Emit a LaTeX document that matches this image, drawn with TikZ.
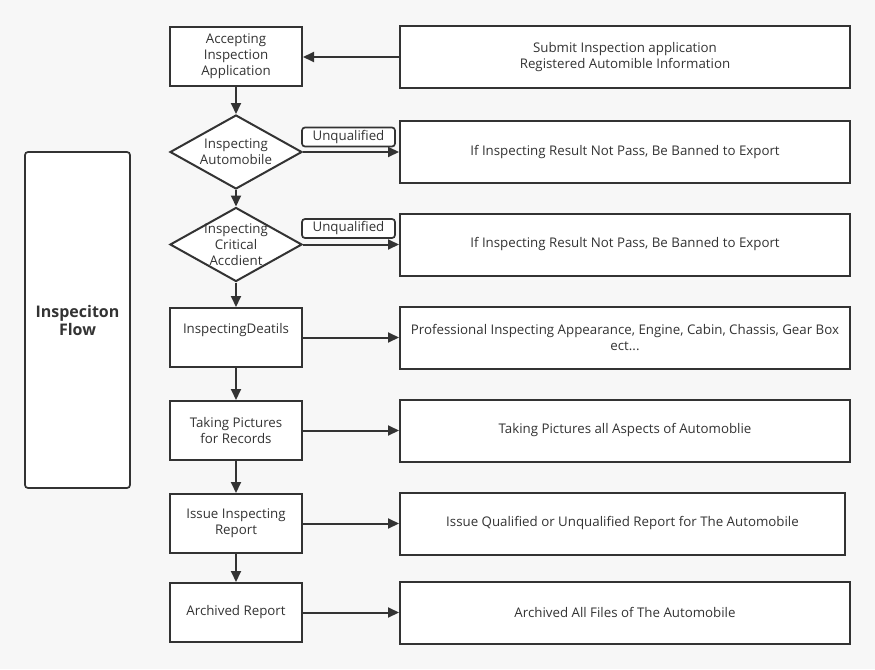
\documentclass[tikz,border=0pt]{standalone}
\usepackage{fontspec}
\setmainfont{Open Sans}
\usetikzlibrary{arrows.meta,shapes.geometric}
\definecolor{bg}{HTML}{F7F7F7}
\definecolor{ink}{HTML}{333333}
\begin{document}
\begin{tikzpicture}[x=1pt,y=-1pt,
  txt/.style={font=\fontsize{13.3}{16}\selectfont,text=ink,align=center,inner sep=0pt},
  box/.style={txt,draw=ink,line width=2pt,fill=white,minimum width=132pt,minimum height=59pt},
  rbox/.style={txt,draw=ink,line width=2pt,fill=white,minimum width=450pt,minimum height=62pt},
  dia/.style={diamond,draw=ink,line width=2pt,fill=white,minimum width=132pt,minimum height=74pt,inner sep=0pt},
  tag/.style={txt,draw=ink,line width=1.7pt,fill=white,rounded corners=3pt,minimum width=93pt,minimum height=19pt},
  arr/.style={draw=ink,line width=2pt,-{Triangle[length=11pt,width=10pt]}}]
\fill[bg] (0,0) rectangle (875,669);
\useasboundingbox (0,0) rectangle (875,669);
% left title box
\node[draw=ink,line width=1.7pt,fill=white,rounded corners=3pt,minimum width=105pt,minimum height=336pt,inner sep=0pt,
  font=\fontsize{16}{18}\bfseries\selectfont,text=ink,align=center] (flow) at (77.5,320) {Inspeciton\\Flow};
% left column
\node[box] (b1) at (236,56.5) {Accepting\\Inspection\\Application};
\node[dia] (d1) at (236,152) {};
\node[txt] (d1t) at (236,152) {Inspecting\\Automobile};
\node[dia] (d2) at (236,244.5) {};
\node[txt] (d2t) at (236,245) {Inspecting\\Critical\\Accdient};
\node[box] (b4) at (236,337.5) {};
\node[txt] (b4t) at (236,330) {InspectingDeatils};
\node[box] (b5) at (236,430.5) {Taking Pictures\\for Records};
\node[box] (b6) at (236,523.5) {Issue Inspecting\\Report};
\node[box] (b7) at (236,612.5) {Archived Report};
% right column
\node[rbox] (r1) at (625,57) {Submit Inspection application\\Registered Automible Information};
\node[rbox] (r2) at (625,152) {If Inspecting Result Not Pass, Be Banned to Export};
\node[rbox] (r3) at (625,244.5) {If Inspecting Result Not Pass, Be Banned to Export};
\node[rbox] (r4) at (625,337.5) {Professional Inspecting Appearance, Engine, Cabin, Chassis, Gear Box\\ect...};
\node[rbox] (r5) at (625,430.5) {Taking Pictures all Aspects of Automoblie};
\node[rbox,minimum width=445pt] (r6) at (622.5,523.5) {Issue Qualified or Unqualified Report for The Automobile};
\node[rbox] (r7) at (625,612.5) {Archived All Files of The Automobile};
% tags
\node[tag] (u1) at (348.5,137) {Unqualified};
\node[tag] (u2) at (348.5,228.5) {Unqualified};
% connectors
\draw[arr] (r1.west) -- (b1.east |- r1.west);
\draw[arr] (b1) -- (d1.north);
\draw[arr] (d1.south) -- (d2.north);
\draw[arr] (d2.south) -- (b4.north);
\draw[arr] (b4) -- (b5);
\draw[arr] (b5) -- (b6);
\draw[arr] (b6) -- (b7);
\draw[arr] (d1.east) -- (r2.west |- d1.east);
\draw[arr] (d2.east) -- (r3.west |- d2.east);
\draw[arr] (b4.east) -- (r4.west |- b4.east);
\draw[arr] (b5.east) -- (r5.west |- b5.east);
\draw[arr] (b6.east) -- (r6.west |- b6.east);
\draw[arr] (b7.east) -- (r7.west |- b7.east);
\end{tikzpicture}
\end{document}
